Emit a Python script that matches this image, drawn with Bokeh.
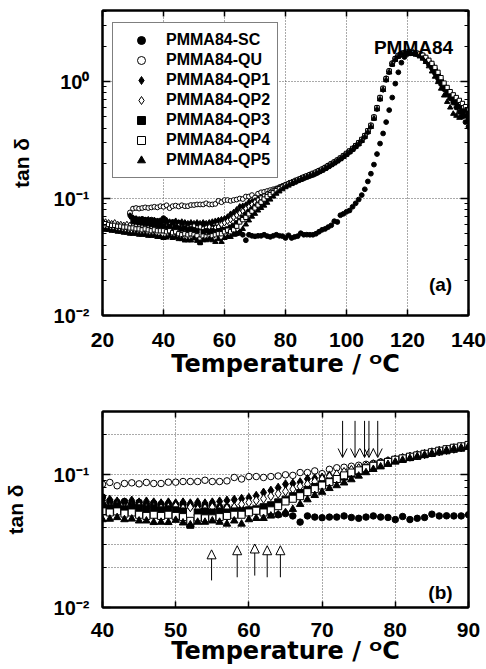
from bokeh.plotting import figure
from bokeh.models import (Range1d, LinearAxis, LogAxis, Label, Legend, LegendItem,
                          Arrow, OpenHead, NormalHead, FixedTicker, CustomJSTickFormatter)
from bokeh.layouts import column
from bokeh.embed import file_html
from bokeh.resources import INLINE

FONT = "Liberation Sans"
TITLE_FONT = "DejaVu Sans"

# ---------------- data (tan delta vs temperature) ----------------
T_sc = list(range(29, 141))
tan_sc = [
    0.074, 0.068, 0.067, 0.066, 0.067, 0.066, 0.065, 0.066, 0.065, 0.064,
    0.065, 0.068, 0.063, 0.062, 0.063, 0.061, 0.062, 0.060, 0.061, 0.060,
    0.060, 0.059, 0.060, 0.058, 0.059, 0.058, 0.059, 0.057, 0.057, 0.056,
    0.055, 0.054, 0.053, 0.052, 0.051, 0.050, 0.051, 0.049, 0.044, 0.049,
    0.048, 0.0475, 0.048, 0.048, 0.049, 0.0477, 0.047, 0.048, 0.049, 0.048,
    0.0477, 0.046, 0.0485, 0.046, 0.047, 0.0477, 0.0505, 0.049, 0.0491, 0.049,
    0.049, 0.050, 0.052, 0.054, 0.055, 0.057, 0.059, 0.064, 0.063, 0.072,
    0.074, 0.077, 0.079, 0.085, 0.091, 0.098, 0.107, 0.120, 0.140, 0.163,
    0.195, 0.240, 0.295, 0.360, 0.450, 0.570, 0.730, 0.960, 1.20, 1.45,
    1.62, 1.72, 1.76, 1.76, 1.73, 1.68, 1.60, 1.50, 1.40, 1.30,
    1.18, 1.06, 0.95, 0.86, 0.78, 0.72, 0.66, 0.60, 0.55, 0.50,
    0.45, 0.41,
]

T_qu = list(range(29, 141))
tan_qu = [
    0.076, 0.082, 0.083, 0.082, 0.083, 0.084, 0.083, 0.084, 0.085, 0.084,
    0.086, 0.085, 0.0876, 0.0827, 0.086, 0.087, 0.0855, 0.0876, 0.086, 0.086,
    0.088, 0.088, 0.089, 0.089, 0.089, 0.091, 0.089, 0.089, 0.090, 0.0955,
    0.093, 0.097, 0.097, 0.0955, 0.097, 0.098, 0.100, 0.099, 0.104, 0.104,
    0.107, 0.102, 0.110, 0.113, 0.114, 0.116, 0.118, 0.120, 0.122, 0.125,
    0.128, 0.131, 0.134, 0.137, 0.141, 0.144, 0.148, 0.152, 0.155, 0.159,
    0.163, 0.167, 0.172, 0.177, 0.183, 0.190, 0.197, 0.204, 0.212, 0.221,
    0.231, 0.242, 0.254, 0.267, 0.282, 0.298, 0.318, 0.344, 0.378, 0.420,
    0.495, 0.595, 0.725, 0.870, 1.06, 1.23, 1.43, 1.57, 1.67, 1.73,
    1.76, 1.77, 1.77, 1.75, 1.72, 1.69, 1.65, 1.57, 1.47, 1.38,
    1.26, 1.13, 1.01, 0.90, 0.82, 0.76, 0.71, 0.67, 0.63, 0.58,
    0.53, 0.49,
]

T_qp1 = list(range(29, 141))
tan_qp1 = [
    0.071, 0.068, 0.067, 0.066, 0.066, 0.065, 0.066, 0.064, 0.065, 0.064,
    0.063, 0.064, 0.065, 0.063, 0.062, 0.064, 0.062, 0.063, 0.062, 0.061,
    0.062, 0.061, 0.062, 0.061, 0.062, 0.061, 0.062, 0.063, 0.064, 0.065,
    0.066, 0.067, 0.0695, 0.0735, 0.076, 0.080, 0.085, 0.086, 0.088, 0.093,
    0.094, 0.0955, 0.099, 0.100, 0.104, 0.108, 0.112, 0.115, 0.119, 0.123,
    0.126, 0.130, 0.133, 0.137, 0.140, 0.143, 0.147, 0.150, 0.154, 0.157,
    0.161, 0.165, 0.170, 0.176, 0.182, 0.188, 0.195, 0.203, 0.211, 0.220,
    0.229, 0.240, 0.251, 0.264, 0.279, 0.296, 0.316, 0.340, 0.374, 0.416,
    0.490, 0.590, 0.720, 0.860, 1.05, 1.22, 1.42, 1.56, 1.66, 1.72,
    1.76, 1.77, 1.76, 1.75, 1.73, 1.70, 1.66, 1.58, 1.48, 1.39,
    1.27, 1.14, 1.02, 0.91, 0.83, 0.76, 0.71, 0.66, 0.62, 0.57,
    0.52, 0.47,
]

T_qp2 = list(range(20, 141))
tan_qp2 = [
    0.064, 0.063, 0.062, 0.061, 0.062, 0.060, 0.060, 0.059, 0.060, 0.059,
    0.058, 0.059, 0.058, 0.057, 0.058, 0.057, 0.057, 0.056, 0.057, 0.056,
    0.058, 0.057, 0.059, 0.056, 0.057, 0.058, 0.056, 0.057, 0.056, 0.057,
    0.058, 0.056, 0.057, 0.055, 0.056, 0.057, 0.055, 0.056, 0.057, 0.060,
    0.062, 0.064, 0.066, 0.069, 0.072, 0.075, 0.078, 0.082, 0.085, 0.089,
    0.093, 0.097, 0.101, 0.105, 0.109, 0.112, 0.116, 0.120, 0.123, 0.127,
    0.130, 0.134, 0.137, 0.141, 0.144, 0.148, 0.152, 0.155, 0.159, 0.162,
    0.167, 0.172, 0.177, 0.183, 0.190, 0.197, 0.204, 0.212, 0.221, 0.231,
    0.241, 0.253, 0.266, 0.281, 0.297, 0.317, 0.342, 0.376, 0.418, 0.492,
    0.592, 0.722, 0.865, 1.05, 1.22, 1.42, 1.56, 1.66, 1.72, 1.76,
    1.77, 1.77, 1.76, 1.74, 1.70, 1.66, 1.58, 1.49, 1.40, 1.28,
    1.15, 1.03, 0.92, 0.84, 0.77, 0.72, 0.68, 0.64, 0.60, 0.55,
    0.51,
]

T_qp3 = list(range(30, 141))
tan_qp3 = [
    0.064, 0.063, 0.062, 0.062, 0.061, 0.061, 0.060, 0.060, 0.059, 0.059,
    0.058, 0.056, 0.058, 0.055, 0.057, 0.056, 0.055, 0.056, 0.054, 0.055,
    0.054, 0.053, 0.042, 0.052, 0.053, 0.052, 0.053, 0.052, 0.053, 0.053,
    0.054, 0.055, 0.057, 0.059, 0.062, 0.065, 0.069, 0.073, 0.077, 0.081,
    0.085, 0.089, 0.093, 0.097, 0.102, 0.107, 0.112, 0.117, 0.121, 0.125,
    0.129, 0.132, 0.136, 0.139, 0.143, 0.146, 0.150, 0.153, 0.157, 0.160,
    0.165, 0.170, 0.175, 0.181, 0.188, 0.195, 0.202, 0.210, 0.219, 0.229,
    0.239, 0.251, 0.264, 0.279, 0.294, 0.314, 0.339, 0.373, 0.414, 0.488,
    0.587, 0.715, 0.858, 1.04, 1.21, 1.41, 1.55, 1.65, 1.71, 1.75,
    1.77, 1.76, 1.75, 1.73, 1.69, 1.65, 1.57, 1.47, 1.38, 1.26,
    1.13, 1.01, 0.90, 0.82, 0.75, 0.70, 0.66, 0.61, 0.56, 0.51,
    0.46,
]

T_qp4 = list(range(20, 141))
tan_qp4 = [
    0.062, 0.061, 0.060, 0.059, 0.059, 0.058, 0.058, 0.057, 0.057, 0.056,
    0.056, 0.055, 0.055, 0.054, 0.055, 0.054, 0.053, 0.054, 0.053, 0.053,
    0.053, 0.052, 0.053, 0.051, 0.052, 0.050, 0.049, 0.050, 0.049, 0.050,
    0.049, 0.048, 0.045, 0.0477, 0.047, 0.047, 0.048, 0.049, 0.050, 0.050,
    0.052, 0.0536, 0.052, 0.054, 0.058, 0.063, 0.066, 0.069, 0.074, 0.078,
    0.083, 0.088, 0.093, 0.099, 0.104, 0.108, 0.112, 0.117, 0.121, 0.125,
    0.130, 0.133, 0.137, 0.140, 0.144, 0.148, 0.152, 0.156, 0.160, 0.164,
    0.168, 0.173, 0.178, 0.184, 0.191, 0.198, 0.205, 0.213, 0.222, 0.232,
    0.243, 0.255, 0.268, 0.283, 0.300, 0.320, 0.345, 0.380, 0.422, 0.497,
    0.598, 0.730, 0.875, 1.06, 1.23, 1.43, 1.57, 1.67, 1.73, 1.76,
    1.78, 1.77, 1.76, 1.75, 1.72, 1.68, 1.61, 1.52, 1.43, 1.32,
    1.20, 1.08, 0.97, 0.89, 0.82, 0.77, 0.73, 0.69, 0.65, 0.61,
    0.57,
]

T_qp5 = list(range(20, 141))
tan_qp5 = [
    0.055, 0.054, 0.054, 0.053, 0.053, 0.052, 0.052, 0.051, 0.051, 0.050,
    0.050, 0.050, 0.049, 0.049, 0.049, 0.048, 0.048, 0.048, 0.047, 0.047,
    0.046, 0.0464, 0.0477, 0.046, 0.0465, 0.045, 0.045, 0.0438, 0.044, 0.0438,
    0.0455, 0.0435, 0.042, 0.044, 0.044, 0.045, 0.044, 0.0426, 0.045, 0.0426,
    0.046, 0.047, 0.047, 0.049, 0.050, 0.052, 0.055, 0.060, 0.065, 0.070,
    0.074, 0.079, 0.083, 0.087, 0.092, 0.098, 0.104, 0.110, 0.115, 0.120,
    0.125, 0.129, 0.133, 0.137, 0.141, 0.145, 0.149, 0.153, 0.157, 0.160,
    0.164, 0.169, 0.174, 0.180, 0.187, 0.194, 0.201, 0.209, 0.218, 0.228,
    0.238, 0.250, 0.263, 0.278, 0.293, 0.312, 0.337, 0.370, 0.410, 0.482,
    0.580, 0.705, 0.850, 1.03, 1.20, 1.40, 1.54, 1.64, 1.71, 1.75,
    1.76, 1.75, 1.73, 1.70, 1.64, 1.57, 1.47, 1.35, 1.22, 1.10,
    0.99, 0.87, 0.76, 0.67, 0.60, 0.53, 0.51, 0.49, 0.53, 0.56,
    0.50,
]

series_names = ["PMMA84-SC", "PMMA84-QU", "PMMA84-QP1", "PMMA84-QP2",
                "PMMA84-QP3", "PMMA84-QP4", "PMMA84-QP5"]
series_T = [T_sc, T_qu, T_qp1, T_qp2, T_qp3, T_qp4, T_qp5]
series_tan = [tan_sc, tan_qu, tan_qp1, tan_qp2, tan_qp3, tan_qp4, tan_qp5]

# transition markers in panel (b)
arrow_down_T = [72.8, 74.5, 75.8, 76.4, 77.6]
arrow_down_from = [0.255, 0.255, 0.255, 0.255, 0.255]
arrow_down_to = [0.135, 0.135, 0.135, 0.135, 0.135]
arrow_up_T = [54.9, 58.4, 60.8, 62.5, 64.3]
arrow_up_from = [0.0160, 0.0169, 0.0174, 0.0169, 0.0169]
arrow_up_to = [0.0272, 0.0292, 0.0301, 0.0292, 0.0292]

xticks_a = [20, 40, 60, 80, 100, 120, 140]
xticks_b = [40, 50, 60, 70, 80, 90]
yticks_major = [0.01, 0.1, 1.0]
yticks_minor = [0.02, 0.03, 0.04, 0.05, 0.06, 0.07, 0.08, 0.09,
                0.2, 0.3, 0.4, 0.5, 0.6, 0.7, 0.8, 0.9, 2.0, 3.0, 4.0]
ytick_text = {0.01: "10⁻²", 0.1: "10⁻¹", 1.0: "10⁰"}
xtitle = "Temperature / ᴼC"
ytitle = "tan δ"

# ---------------- styling ----------------
marker_styles = [
    ("circle", "black"), ("circle", "white"), ("diamond", "black"),
    ("diamond", "white"), ("square", "black"), ("square", "white"),
    ("triangle", "black"),
]
size_a = {"circle": 4.8, "diamond": 6.5, "square": 4.3, "triangle": 5.3}
size_b = {"circle": 6.5, "diamond": 9, "square": 7, "triangle": 7.5}


def blank():
    return CustomJSTickFormatter(code="return ''")


def add_label(p, x, y, text, size, align="left"):
    p.add_layout(Label(x=x, y=y, x_units="screen", y_units="screen", text=text,
                       text_font=FONT, text_font_size=f"{size}px",
                       text_font_style="bold", text_color="black",
                       text_align=align, text_baseline="alphabetic"))


def make_panel(height, xr, yr, xticks, grid_x, grid_y, border_top, border_bottom,
               sizes, ytitle_standoff, xlabel_standoff, xtitle_standoff):
    p = figure(width=486, height=height, x_range=Range1d(*xr), y_range=Range1d(*yr),
               y_axis_type="log", output_backend="svg", toolbar_location=None,
               min_border_left=100, min_border_right=18,
               min_border_top=border_top, min_border_bottom=border_bottom)
    p.background_fill_color = "white"
    p.border_fill_color = "white"
    p.outline_line_color = "black"
    p.outline_line_width = 2

    yticker = FixedTicker(ticks=yticks_major, minor_ticks=yticks_minor)

    # bottom axis
    xa = p.xaxis[0]
    xa.ticker = FixedTicker(ticks=xticks)
    xa.major_tick_in = 6
    xa.major_tick_out = 0
    xa.minor_tick_line_color = None
    xa.axis_line_width = 2
    xa.major_tick_line_width = 1.5
    xa.major_label_text_font = FONT
    xa.major_label_text_font_size = "21px"
    xa.major_label_text_font_style = "bold"
    xa.major_label_text_color = "black"
    xa.major_label_standoff = xlabel_standoff
    xa.axis_label = xtitle
    xa.axis_label_text_font = TITLE_FONT
    xa.axis_label_text_font_size = "24px"
    xa.axis_label_text_font_style = "bold"
    xa.axis_label_text_color = "black"
    xa.axis_label_standoff = xtitle_standoff

    # left axis
    ya = p.yaxis[0]
    ya.ticker = yticker
    ya.major_tick_in = 8
    ya.major_tick_out = 0
    ya.minor_tick_in = 4
    ya.minor_tick_out = 0
    ya.axis_line_width = 2
    ya.major_tick_line_width = 1.5
    ya.minor_tick_line_width = 1
    ya.major_label_overrides = ytick_text
    ya.major_label_text_font = FONT
    ya.major_label_text_font_size = "20px"
    ya.major_label_text_font_style = "bold"
    ya.major_label_text_color = "black"
    ya.major_label_standoff = 13
    ya.axis_label = ytitle
    ya.axis_label_text_font = FONT
    ya.axis_label_text_font_size = "21px"
    ya.axis_label_text_font_style = "bold"
    ya.axis_label_text_color = "black"
    ya.axis_label_standoff = ytitle_standoff

    # mirrored axes
    top = LinearAxis(ticker=FixedTicker(ticks=xticks), major_tick_in=6, major_tick_out=0,
                     minor_tick_line_color=None, axis_line_width=2,
                     major_tick_line_width=1.5, formatter=blank(),
                     major_label_standoff=0)
    p.add_layout(top, "above")
    right = LogAxis(ticker=FixedTicker(ticks=yticks_major, minor_ticks=yticks_minor),
                    major_tick_in=8, major_tick_out=0, minor_tick_in=4, minor_tick_out=0,
                    axis_line_width=2, major_tick_line_width=1.5, minor_tick_line_width=1,
                    formatter=blank(), major_label_standoff=0)
    p.add_layout(right, "right")

    # grids
    p.xgrid.ticker = FixedTicker(ticks=grid_x)
    p.ygrid.ticker = FixedTicker(ticks=grid_y)
    for g in (p.xgrid[0], p.ygrid[0]):
        g.grid_line_color = "#555555"
        g.grid_line_dash = "1 2"
        g.grid_line_width = 1

    # data
    renderers = []
    for T, v, (mk, fill) in zip(series_T, series_tan, marker_styles):
        r = p.scatter(T, v, marker=mk, size=sizes[mk], fill_color=fill,
                      line_color="black", line_width=1)
        renderers.append(r)
    return p, renderers


# ---------------- panel (a) ----------------
pa, rend = make_panel(382, (20, 140), (0.01, 4.05), xticks_a, [40, 60, 80, 100, 120],
                      [0.1, 1.0], 10, 67, size_a, 18, 17, 0)
add_label(pa, 311, 268, "PMMA84", 19, align="center")
add_label(pa, 338, 31, "(a)", 19, align="center")

legend = Legend(items=[LegendItem(label=n, renderers=[r]) for n, r in zip(series_names, rend)],
                location=(10, 137), padding=7, margin=0, spacing=0,
                glyph_width=42, glyph_height=20, label_height=20, label_standoff=4,
                label_text_font=FONT, label_text_font_size="16px",
                label_text_font_style="bold", label_text_color="black",
                border_line_color="black", border_line_width=1,
                background_fill_color="white", background_fill_alpha=1)
pa.add_layout(legend)

# ---------------- panel (b) ----------------
pb, _ = make_panel(287, (40, 90), (0.01, 0.3), xticks_b, [50, 60, 70, 80],
                   [0.02, 0.03, 0.04, 0.06, 0.07, 0.1, 0.2], 29, 62, size_b, 24, 15, -3)
add_label(pb, 338, 15, "(b)", 19, align="center")

for T, y0, y1 in zip(arrow_down_T, arrow_down_from, arrow_down_to):
    pb.add_layout(Arrow(end=OpenHead(size=9, line_width=1, line_color="black"),
                        x_start=T, y_start=y0, x_end=T, y_end=y1,
                        line_width=1, line_color="black"))
for T, y0, y1 in zip(arrow_up_T, arrow_up_from, arrow_up_to):
    pb.add_layout(Arrow(end=NormalHead(size=9, line_width=1, line_color="black",
                                       fill_color="white"),
                        x_start=T, y_start=y0, x_end=T, y_end=y1,
                        line_width=1, line_color="black"))

layout = column(pa, pb, spacing=0)
open("out.html", "w").write(file_html(layout, INLINE))
